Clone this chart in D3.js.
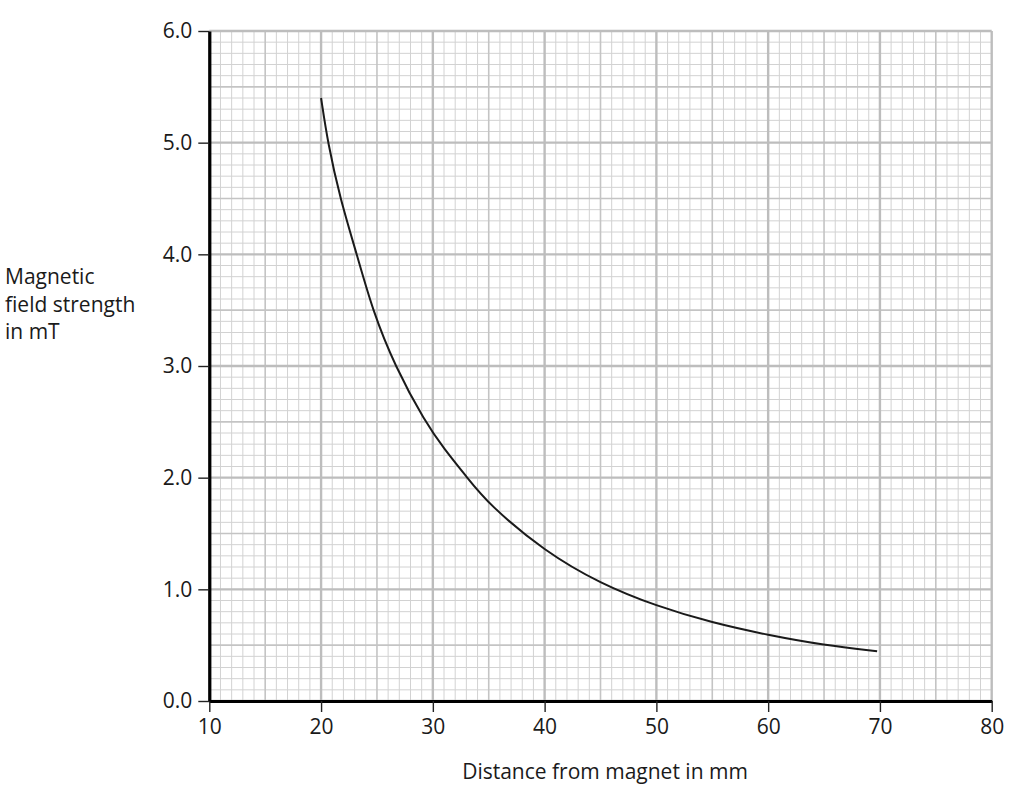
<!DOCTYPE html>
<html>
<head>
<meta charset="utf-8">
<script src="https://cdn.jsdelivr.net/npm/d3@7"></script>
<style>
  body { margin: 0; background: #fff; }
  svg text { font-family: "Open Sans", sans-serif; fill: #1a1a1a; }
</style>
</head>
<body>
<div id="chart"></div>
<script>
// values
var distance = [20, 20.6, 21.7, 23.2, 24.6, 26.6, 29.3, 31, 33, 35, 40, 45, 50, 55, 60, 65, 69.75];
var fieldStrength = [5.40, 5.0, 4.5, 4.0, 3.5, 3.0, 2.5, 2.26, 2.01, 1.76, 1.34, 1.05, 0.85, 0.70, 0.59, 0.50, 0.445];
var xTicks = [10, 20, 30, 40, 50, 60, 70, 80];
var yTicks = [0, 1, 2, 3, 4, 5, 6];
var yLabelLines = ["Magnetic", "field strength", "in mT"];
var xLabel = "Distance from magnet in mm";

function init() {
    var W = 1024, H = 794;
    var margin = { top: 31, left: 209.3, right: 32.3, bottom: 93 };
    var w = W - margin.left - margin.right;
    var h = H - margin.top - margin.bottom;
    var fontSize = "21px";

    var svg = d3.select("#chart").append("svg")
        .attr("width", W)
        .attr("height", H);

    var g = svg.append("g")
        .attr("transform", "translate(" + margin.left + "," + margin.top + ")");

    var x = d3.scaleLinear().domain([10, 80]).range([0, w]);
    var y = d3.scaleLinear().domain([0, 6]).range([h, 0]);

    // graph paper: every 1 mm / 0.1 mT, heavier every 5 and 10
    var xGrid = d3.range(10, 81, 1);
    var yGrid = d3.range(0, 61, 1); // tenths

    function level(k) {
        return k % 10 === 0 ? 2 : (k % 5 === 0 ? 1 : 0);
    }
    var gridColor = ["#d2d2d2", "#c4c4c4", "#bdbdbd"];
    var gridWidth = [1, 1.6, 2.4];

    // minor first, then heavier on top
    [0, 1, 2].forEach(function(lv) {
        g.append("g").selectAll("line")
            .data(xGrid.filter(function(k) { return level(k) === lv; }))
            .enter().append("line")
            .attr("x1", function(d) { return x(d); })
            .attr("x2", function(d) { return x(d); })
            .attr("y1", 0)
            .attr("y2", h)
            .attr("stroke", gridColor[lv])
            .attr("stroke-width", gridWidth[lv]);

        g.append("g").selectAll("line")
            .data(yGrid.filter(function(k) { return level(k) === lv; }))
            .enter().append("line")
            .attr("x1", 0)
            .attr("x2", w)
            .attr("y1", function(d) { return y(d / 10); })
            .attr("y2", function(d) { return y(d / 10); })
            .attr("stroke", gridColor[lv])
            .attr("stroke-width", gridWidth[lv]);
    });

    // the curve (basis spline smooths out small reading errors)
    var line = d3.line()
        .x(function(d, i) { return x(distance[i]); })
        .y(function(d) { return y(d); })
        .curve(d3.curveBasis);

    g.append("path")
        .datum(fieldStrength)
        .attr("d", line)
        .attr("fill", "none")
        .attr("stroke", "#1a1a1a")
        .attr("stroke-width", 2);

    // axes
    var xAxis = d3.axisBottom(x).tickValues(xTicks).tickSize(11).tickSizeOuter(0).tickPadding(7);
    var yAxis = d3.axisLeft(y).tickValues(yTicks).tickSize(11).tickSizeOuter(0).tickPadding(6)
        .tickFormat(d3.format(".1f"));

    var gx = g.append("g")
        .attr("transform", "translate(0," + h + ")")
        .call(xAxis);
    var gy = g.append("g").call(yAxis);

    [gx, gy].forEach(function(a) {
        a.select(".domain").attr("stroke", "#000").attr("stroke-width", 3.2);
        a.selectAll(".tick line").attr("stroke", "#222").attr("stroke-width", 1.4);
        a.selectAll(".tick text")
            .style("font-family", "'Open Sans', sans-serif")
            .style("font-size", fontSize)
            .attr("fill", "#1a1a1a");
    });

    // axis titles
    svg.append("text")
        .attr("x", 605)
        .attr("y", 779)
        .attr("text-anchor", "middle")
        .style("font-size", fontSize)
        .text(xLabel);

    svg.append("g").selectAll("text")
        .data(yLabelLines)
        .enter().append("text")
        .attr("x", 5)
        .attr("y", function(d, i) { return 284 + i * 27.5; })
        .style("font-size", fontSize)
        .text(function(d) { return d; });
}

window.onload = init;
</script>
</body>
</html>
